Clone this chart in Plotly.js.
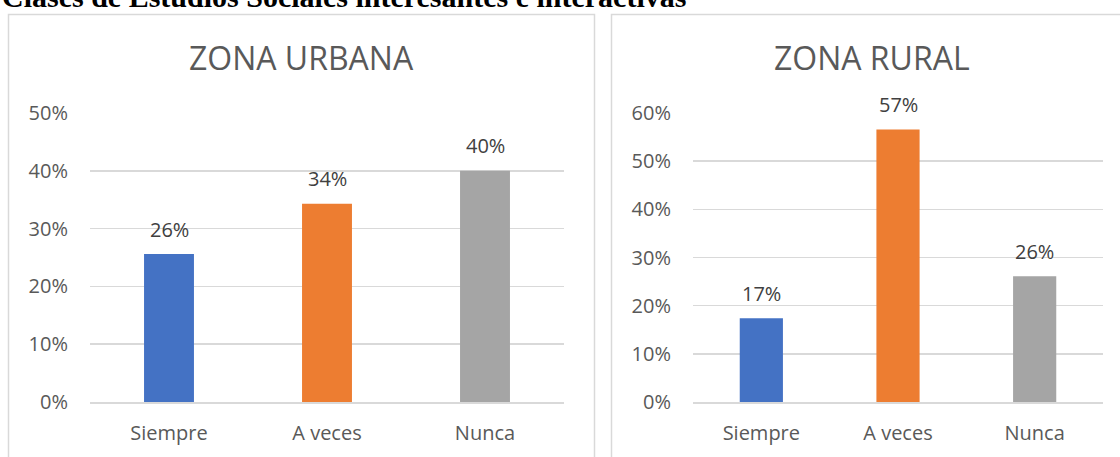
<!DOCTYPE html>
<html>
<head>
<meta charset="utf-8">
<script src="https://cdn.plot.ly/plotly-3.0.1.min.js"></script>
<style>
  body { margin: 0; background: #fff; }
  #plot { width: 1120px; height: 457px; }
</style>
</head>
<body>
<div id="plot"></div>
<script>
var categories = ['Siempre', 'A veces', 'Nunca'];
var urbanValues = [0.256, 0.343, 0.40];
var ruralValues = [0.174, 0.566, 0.261];
var barColors = ['#4472C4', '#ED7D31', '#A5A5A5'];

var W = 1120, H = 457;
function px(x) { return x / W; }
function py(y) { return 1 - y / H; }

var trace1 = {
  x: categories,
  y: urbanValues,
  type: 'bar',
  marker: {color: barColors},
  hoverinfo: 'none',
  xaxis: 'x',
  yaxis: 'y'
};

var trace2 = {
  x: categories,
  y: ruralValues,
  type: 'bar',
  marker: {color: barColors},
  hoverinfo: 'none',
  xaxis: 'x2',
  yaxis: 'y2'
};

var tickFont = {family: 'Open Sans', size: 20, color: '#595959'};

function yAxis(max, anchor) {
  return {
    domain: [py(402), py(113)],
    range: [0, max],
    dtick: 0.1,
    tickformat: '.0%',
    showgrid: true,
    gridcolor: '#d9d9d9',
    gridwidth: 1.5,
    zeroline: false,
    showline: false,
    ticks: '',
    ticklabelstandoff: 21,
    tickfont: tickFont,
    anchor: anchor,
    fixedrange: true
  };
}

function xAxis(x0, x1, anchor) {
  return {
    domain: [px(x0), px(x1)],
    showline: true,
    linecolor: '#d9d9d9',
    linewidth: 1.5,
    ticks: '',
    ticklabelstandoff: 12,
    tickfont: tickFont,
    anchor: anchor,
    fixedrange: true
  };
}

// data labels above each bar, placed through the axes
function labels(values, xr, yr) {
  return values.map(function (v, i) {
    return {
      x: categories[i], y: v, xref: xr, yref: yr,
      text: Math.round(v * 100) + '%',
      showarrow: false, xanchor: 'center', yanchor: 'middle', yshift: 25,
      font: {family: 'Open Sans', size: 20, color: '#404040'}
    };
  });
}

var annotations = [
  {text: '<b>Clases de Estudios Sociales interesantes e interactivas</b>',
   xref: 'paper', yref: 'paper', x: px(0), y: py(15), xanchor: 'left', yanchor: 'bottom',
   showarrow: false, font: {family: 'Liberation Serif', size: 30, color: '#000'}},
  {text: 'ZONA URBANA', xref: 'paper', yref: 'paper', x: px(301), y: py(58),
   xanchor: 'center', yanchor: 'middle', showarrow: false,
   font: {family: 'Open Sans', size: 32, color: '#595959'}},
  {text: 'ZONA RURAL', xref: 'paper', yref: 'paper', x: px(872), y: py(58),
   xanchor: 'center', yanchor: 'middle', showarrow: false,
   font: {family: 'Open Sans', size: 32, color: '#595959'}}
].concat(labels(urbanValues, 'x', 'y'), labels(ruralValues, 'x2', 'y2'));

var layout = {
  width: W,
  height: H,
  margin: {l: 0, r: 0, t: 0, b: 0},
  paper_bgcolor: '#ffffff',
  plot_bgcolor: 'rgba(0,0,0,0)',
  showlegend: false,
  bargap: 0.684,
  xaxis: xAxis(90, 564, 'y'),
  yaxis: yAxis(0.5, 'x'),
  xaxis2: xAxis(693, 1103, 'y2'),
  yaxis2: yAxis(0.6, 'x2'),
  shapes: [
    {type: 'rect', xref: 'paper', yref: 'paper',
     x0: px(8.5), x1: px(594.5), y0: py(470), y1: py(14.5),
     line: {color: '#d9d9d9', width: 1.5}},
    {type: 'rect', xref: 'paper', yref: 'paper',
     x0: px(611.5), x1: px(1130), y0: py(470), y1: py(14.5),
     line: {color: '#d9d9d9', width: 1.5}}
  ],
  annotations: annotations
};

Plotly.newPlot('plot', [trace1, trace2], layout, {displayModeBar: false, staticPlot: true});
</script>
</body>
</html>
